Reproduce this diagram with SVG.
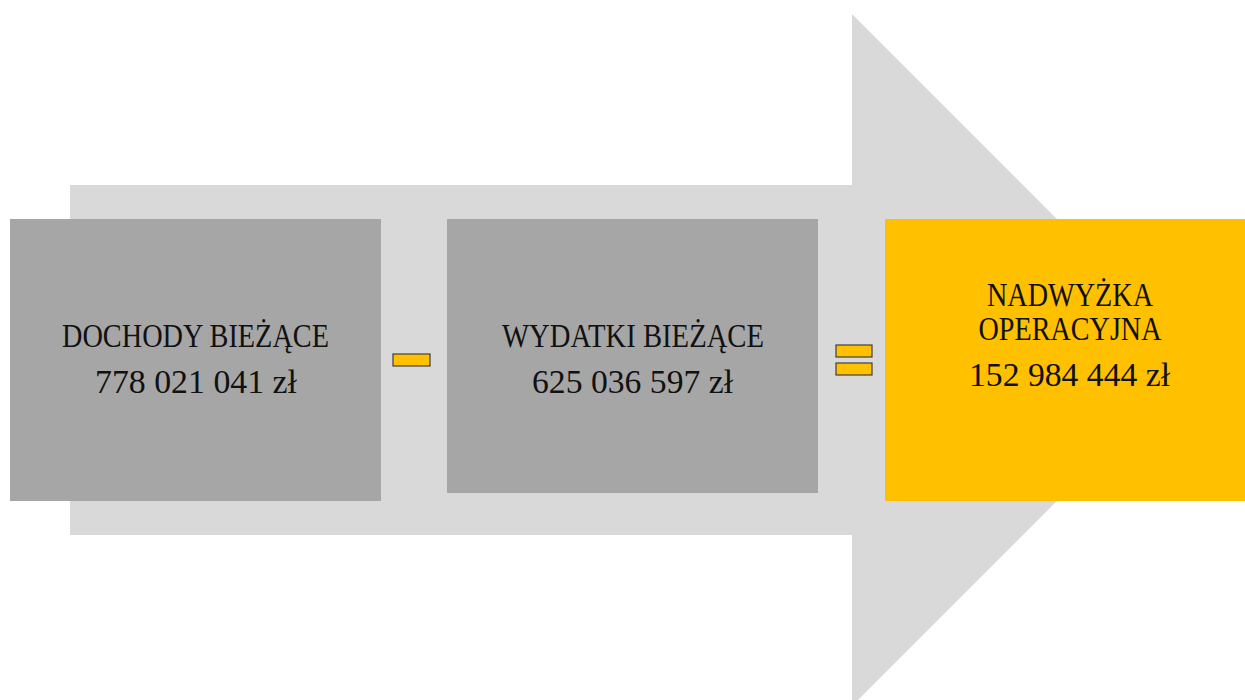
<svg xmlns="http://www.w3.org/2000/svg" width="1245" height="700" viewBox="0 0 1245 700">
<style>
.box-gray{fill:#A6A6A6}
.box-yellow{fill:#FFC000}
.op{fill:#FFC000;stroke:#3F3F3F;stroke-width:1.2}
.t{font-family:"Liberation Serif","Times New Roman",serif;font-size:33px;fill:#111;text-anchor:middle}
</style>
<rect width="1245" height="700" fill="#FFFFFF"/>
<g id="arrow">
<polygon points="70,185 852,185 852,14 1198,360 852,706 852,535 70,535" fill="#D9D9D9"/>
</g>
<g id="node-dochody">
<rect class="box-gray" x="10" y="219" width="371" height="282"/>
<text class="t" x="195.5" y="347" textLength="267" lengthAdjust="spacingAndGlyphs">DOCHODY BIEŻĄCE</text>
<text class="t" x="196" y="393" textLength="202" lengthAdjust="spacingAndGlyphs">778 021 041 zł</text>
</g>
<g id="node-wydatki">
<rect class="box-gray" x="447" y="219" width="371" height="274"/>
<text class="t" x="633" y="347" textLength="262" lengthAdjust="spacingAndGlyphs">WYDATKI BIEŻĄCE</text>
<text class="t" x="632.5" y="393" textLength="201" lengthAdjust="spacingAndGlyphs">625 036 597 zł</text>
</g>
<g id="node-nadwyzka">
<rect class="box-yellow" x="885" y="219" width="360" height="282"/>
<text class="t" x="1070" y="306" textLength="166" lengthAdjust="spacingAndGlyphs">NADWYŻKA</text>
<text class="t" x="1070" y="340" textLength="183" lengthAdjust="spacingAndGlyphs">OPERACYJNA</text>
<text class="t" x="1069.5" y="386" textLength="201" lengthAdjust="spacingAndGlyphs">152 984 444 zł</text>
</g>
<g id="operators">
<rect class="op" x="393" y="354" width="37" height="12"/>
<rect class="op" x="836" y="345" width="36" height="12"/>
<rect class="op" x="836" y="363" width="36" height="12"/>
</g>
</svg>
